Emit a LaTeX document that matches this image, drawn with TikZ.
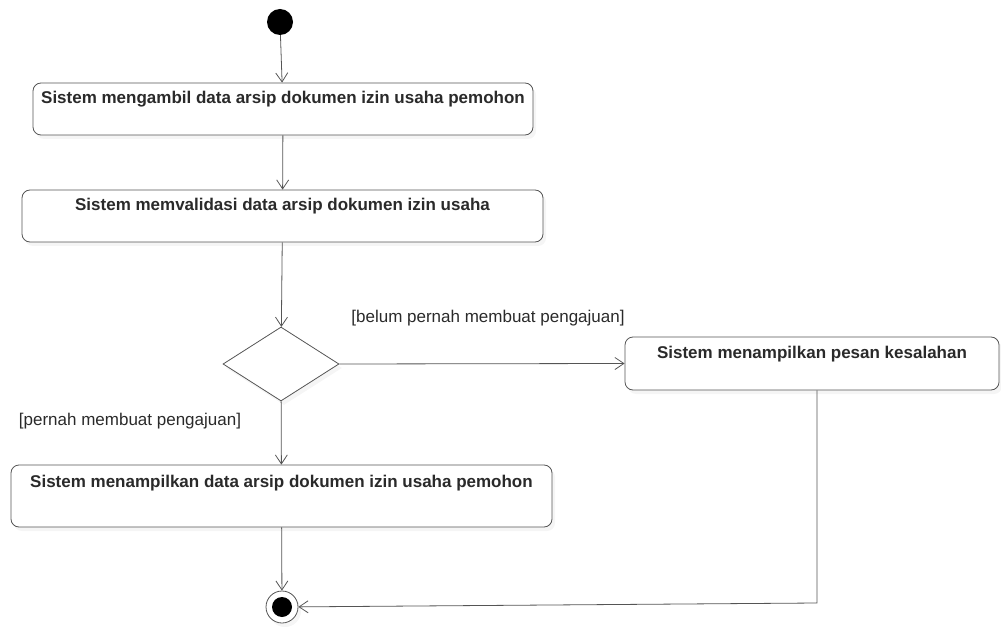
\documentclass[tikz,border=0pt]{standalone}
\usepackage{fontspec}
\setmainfont{Liberation Sans}
\usetikzlibrary{arrows.meta,positioning,calc,shapes.geometric,shadows}
\definecolor{linegray}{HTML}{555555}
\definecolor{txtgray}{HTML}{2a2a2a}

\tikzset{
	act/.style={draw=linegray, thick, rounded corners=8pt, fill=white,
		drop shadow={shadow xshift=3pt, shadow yshift=-4pt, fill=black!8},
		font=\fontsize{17}{19}\selectfont\bfseries, text=txtgray,
		minimum height=52pt, text height=10pt, text depth=21pt},
	flow/.style={draw=linegray, thick, -{Straight Barb[length=9pt,width=12pt]}},
	guard/.style={font=\fontsize{17}{19}\selectfont, text=txtgray}
}

\begin{document}
\begin{tikzpicture}[x=1pt,y=-1pt]
	\useasboundingbox (0,0) rectangle (1001,628);
	
	% start and end
	\node[circle, fill=black, minimum size=26pt, inner sep=0pt] (start) at (280,22) {};
	\node[circle, draw=linegray, thick, fill=white, minimum size=32pt, inner sep=0pt,
		drop shadow={shadow xshift=3pt, shadow yshift=-4pt, fill=black!8}] (end) at (282,607) {};
	\fill (end) circle (10pt);
	
	% actions
	\node[act, minimum width=500pt] (ambil) at (283,109) {Sistem mengambil data arsip dokumen izin usaha pemohon};
	\node[act, minimum width=521pt] (validasi) at (282.5,216) {Sistem memvalidasi data arsip dokumen izin usaha};
	\node[diamond, draw=linegray, thick, fill=white, minimum width=116pt, minimum height=74pt, inner sep=0pt,
		drop shadow={shadow xshift=3pt, shadow yshift=-4pt, fill=black!8}] (cek) at (281,364) {};
	\node[act, minimum width=374pt, minimum height=53pt] (salah) at (812,363.5) {Sistem menampilkan pesan kesalahan};
	\node[act, minimum width=541pt, minimum height=62pt, text depth=28pt] (tampil) at (281.5,496) {Sistem menampilkan data arsip dokumen izin usaha pemohon};
	
	% guards
	\node[guard] (belum) at (488,318) {[belum pernah membuat pengajuan]};
	\node[guard] (pernah) at (130,421) {[pernah membuat pengajuan]};
	
	% flows
	\draw[flow] (start) -- (ambil);
	\draw[flow] (ambil) -- (validasi);
	\draw[flow] (validasi) -- (cek);
	\draw[flow] (cek.east) -- (salah.west);
	\draw[flow] (cek) -- (tampil);
	\draw[flow] (tampil) -- (end);
	\coordinate (belok) at (817,603);
	\draw[flow] (salah.south -| belok) -- (belok) -- (end);
\end{tikzpicture}
\end{document}
